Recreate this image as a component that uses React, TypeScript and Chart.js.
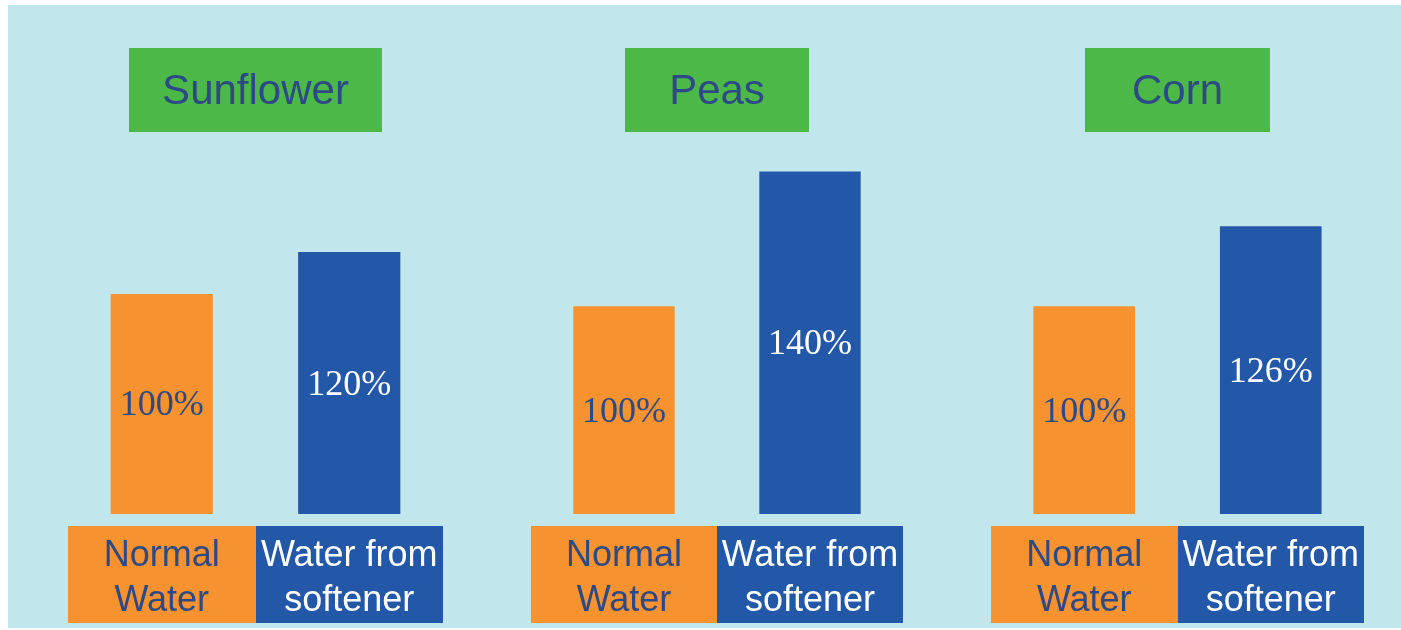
import React, { useEffect, useRef } from 'react';
import { Chart, registerables } from 'chart.js';

Chart.register(...registerables);

// ---- data ----
const groups = ['Sunflower', 'Peas', 'Corn'];
const waterTypes = [['Normal', 'Water'], ['Water from', 'softener']];
const normalWater = [100, 100, 100];
const softenerWater = [120, 140, 126];

// ---- styles / layout ----
const COLORS = {
  bg: '#c1e6ec',
  green: '#4cb848',
  orange: '#f6922f',
  blue: '#2357a8',
  dark: '#2d4a86',
  white: '#ffffff',
};

// each panel is drawn on its own illustration scale (the original is not to a common scale)
const panels = [
  { left: 60, width: 375, yMin: -4.8, yMax: 177.1, titleBox: 253 },
  { left: 523, width: 372, yMin: 38.4, yMax: 151.6, titleBox: 184 },
  { left: 983, width: 373, yMin: 32.4, yMax: 156.6, titleBox: 185 },
];

const decorPlugin = {
  id: 'decor',
  beforeDraw(chart: any, _args: any, opts: any) {
    const ctx = chart.ctx;
    ctx.save();
    const tb = chart.titleBlock;
    if (tb) {
      const cx = (tb.left + tb.right) / 2;
      ctx.fillStyle = opts.titleColor;
      ctx.fillRect(Math.round(cx - opts.titleBox / 2), Math.round(tb.top), opts.titleBox, opts.titleHeight);
    }
    const x = chart.scales.x;
    const n = x.ticks.length;
    const half = x.width / n / 2;
    for (let i = 0; i < n; i++) {
      const c = x.getPixelForTick(i);
      ctx.fillStyle = opts.boxColors[i];
      ctx.fillRect(Math.round(c - half), x.top + opts.boxTop, Math.round(half * 2), opts.boxHeight);
    }
    ctx.restore();
  },
  afterDatasetsDraw(chart: any, _args: any, opts: any) {
    const ctx = chart.ctx;
    const meta = chart.getDatasetMeta(0);
    ctx.save();
    ctx.font = opts.font;
    ctx.textAlign = 'center';
    ctx.textBaseline = 'middle';
    meta.data.forEach((bar: any, i: number) => {
      const v = chart.data.datasets[0].data[i];
      ctx.fillStyle = opts.valueColors[i];
      ctx.fillText(`${v}%`, bar.x, (bar.y + bar.base) / 2 + 2);
    });
    ctx.restore();
  },
};

function Panel({ index }: { index: number }) {
  const ref = useRef<HTMLCanvasElement | null>(null);
  const p = panels[index];
  useEffect(() => {
    if (!ref.current) return;
    const chart = new Chart(ref.current, {
      type: 'bar',
      data: {
        labels: waterTypes,
        datasets: [
          {
            data: [normalWater[index], softenerWater[index]],
            base: p.yMin,
            backgroundColor: [COLORS.orange, COLORS.blue],
            borderWidth: 0,
            barPercentage: 0.545,
            categoryPercentage: 1,
          } as any,
        ],
      },
      options: {
        responsive: false,
        animation: false,
        devicePixelRatio: 1,
        layout: { padding: { top: 0, bottom: 4, left: 0, right: 0 } },
        scales: {
          x: {
            grid: { display: false, drawTicks: false },
            border: { display: false },
            ticks: {
              autoSkip: false,
              maxRotation: 0,
              padding: 20,
              font: { family: '"Liberation Sans", Arial, sans-serif', size: 36, lineHeight: 1.25 },
              color: (c: any) => (c.index === 0 ? COLORS.dark : COLORS.white),
            },
            afterFit: (scale: any) => {
              scale.paddingLeft = 0;
              scale.paddingRight = 0;
              scale.height = 110;
            },
          },
          y: { display: false, min: p.yMin, max: p.yMax },
        },
        plugins: {
          legend: { display: false },
          tooltip: { enabled: false },
          title: {
            display: true,
            text: groups[index],
            color: COLORS.dark,
            font: { family: '"Liberation Sans", Arial, sans-serif', size: 42, weight: 'normal', lineHeight: 1.15 },
            padding: { top: 20, bottom: 16 },
          },
          decor: {
            titleColor: COLORS.green,
            titleBox: p.titleBox,
            titleHeight: 84,
            boxColors: [COLORS.orange, COLORS.blue],
            boxTop: 12,
            boxHeight: 97,
            font: '36px "Liberation Serif", "Times New Roman", serif',
            valueColors: [COLORS.dark, COLORS.white],
          },
        } as any,
      },
      plugins: [decorPlugin as any],
    });
    return () => chart.destroy();
  }, [index]);
  return (
    <canvas
      ref={ref}
      width={p.width}
      height={580}
      style={{ position: 'absolute', left: p.left, top: 43, width: p.width, height: 580 }}
    />
  );
}

export default function App() {
  return (
    <div
      style={{
        position: 'absolute',
        left: 8,
        top: 5,
        width: 1393,
        height: 623,
        background: COLORS.bg,
        overflow: 'hidden',
      }}
    >
      {groups.map((g, i) => (
        <Panel key={g} index={i} />
      ))}
    </div>
  );
}
